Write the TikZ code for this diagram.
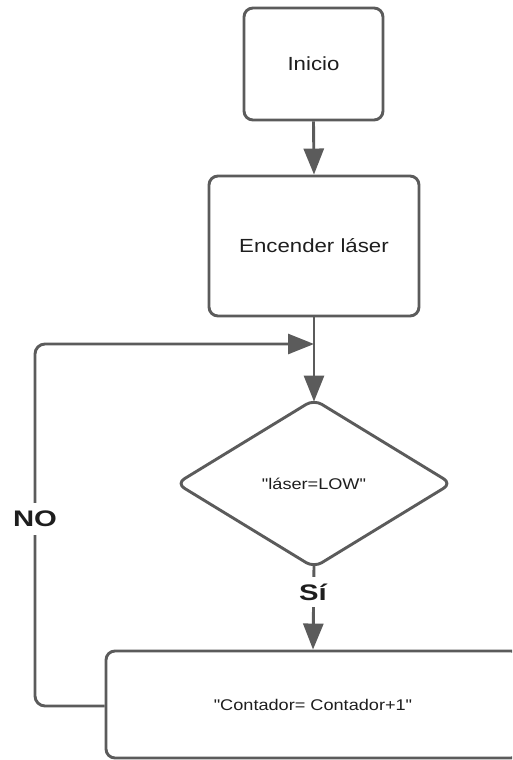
\documentclass[tikz,border=0pt]{standalone}
\usepackage{fontspec}
\setmainfont{Liberation Sans}
\newfontfamily\mainf[FakeStretch=1.17]{Liberation Sans}
\newfontfamily\boldf[FakeStretch=1.3]{Liberation Sans}
\usetikzlibrary{arrows.meta,shapes.geometric}
\definecolor{ln}{HTML}{5B5B5B}
\definecolor{tx}{HTML}{1E1E1E}
\begin{document}
\begin{tikzpicture}[x=1pt,y=1pt,
  box/.style={draw=ln, line width=2.9pt, rounded corners=9pt, fill=white, text=tx, inner sep=0pt,
    font=\mainf\fontsize{19}{22}\selectfont},
  dec/.style={diamond, draw=ln, line width=2.9pt, rounded corners=9pt, minimum width=276pt,
    minimum height=169pt, inner sep=0pt, text=tx, font=\mainf\fontsize{15.5}{18}\selectfont},
  flow/.style={draw=ln, line width=2.9pt, -{Triangle[length=26pt,width=20pt]}},
  line/.style={draw=ln, line width=2.9pt},
  lab/.style={fill=white, text=tx, inner xsep=2pt, inner ysep=8pt,
    font=\boldf\bfseries\fontsize{22.5}{24}\selectfont}]
\useasboundingbox (0,0) rectangle (512,-760);
\clip (0,0) rectangle (512,-760);
\fill[white] (0,0) rectangle (512,-760);

\node[box, minimum width=139pt, minimum height=112pt] (ini) at (313.5,-64) {Inicio};
\node[box, minimum width=210pt, minimum height=140pt] (enc) at (314,-246) {Encender láser};
\node[dec] (dia) at (314,-483.5) {"láser=LOW"};
\node[box, font=\mainf\fontsize{15.5}{18}\selectfont, minimum width=414pt, minimum height=107pt] (cont) at (313,-704.5) {"Contador= Contador+1"};

\coordinate (j) at (314,-344);
\coordinate (tl) at (35,-344);
\coordinate (bl) at (35,-706);

\draw[flow] (ini.south) -- (enc.north);
\draw[line] (enc.south) -- (j);
\draw[flow] (j) -- ([yshift=-4pt]dia.north);
\draw[flow, rounded corners=10pt] (cont.west |- bl) -- (bl) -- (tl) -- (j);
\node[lab] (no) at (35,-519) {NO};
\draw[flow] ([yshift=4pt]dia.south) -- (cont.north);
\node[lab, inner ysep=7pt] (si) at (313,-592) {Sí};
\end{tikzpicture}
\end{document}
